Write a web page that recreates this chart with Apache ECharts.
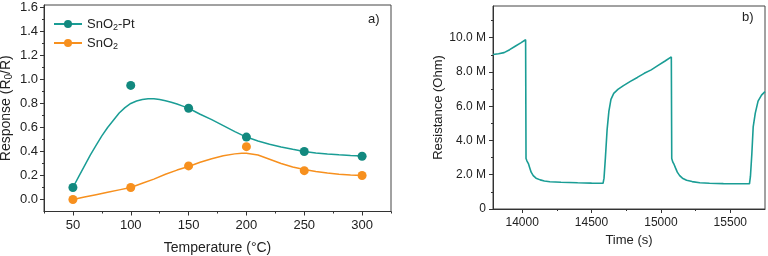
<!DOCTYPE html>
<html>
<head>
<meta charset="utf-8">
<script src="https://cdn.jsdelivr.net/npm/echarts@6/dist/echarts.min.js"></script>
<style>html,body{margin:0;padding:0;background:#fff}#c{width:768px;height:256px}</style>
</head>
<body>
<div id="c"></div>
<script>
// ---- Panel a) data ----
const temps = [50, 100, 150, 200, 250, 300];
const ptPoints = [0.10, 0.95, 0.76, 0.52, 0.40, 0.36];
const sno2Points = [0.00, 0.10, 0.28, 0.44, 0.24, 0.20];
const ptFitT = [50,55,60,65,70,75,80,85,90,95,100,105,110,115,120,125,130,135,140,145,150,160,170,180,190,200,210,220,230,240,250,260,270,280,290,300];
const ptFitV = [0.10,0.19,0.28,0.37,0.45,0.53,0.60,0.66,0.72,0.765,0.80,0.82,0.833,0.839,0.839,0.833,0.822,0.81,0.795,0.778,0.76,0.71,0.665,0.615,0.565,0.52,0.487,0.46,0.438,0.418,0.40,0.388,0.379,0.372,0.366,0.362];
const snFitT = [50,60,70,80,90,100,110,120,130,140,150,160,170,180,190,196,200,210,220,230,240,250,260,270,280,290,300];
const snFitV = [0.00,0.02,0.04,0.06,0.08,0.10,0.135,0.17,0.21,0.245,0.275,0.31,0.34,0.365,0.38,0.386,0.385,0.37,0.335,0.30,0.27,0.25,0.233,0.22,0.21,0.203,0.20];
const tempTicks = [50, 100, 150, 200, 250, 300];
const tempMinor = [25, 75, 125, 175, 225, 275, 325];
const respTicks = [0, 0.2, 0.4, 0.6, 0.8, 1.0, 1.2, 1.4, 1.6];
const respMinor = [0.1, 0.3, 0.5, 0.7, 0.9, 1.1, 1.3, 1.5];

// ---- Panel b) data (time s, resistance in MOhm) ----
const timeS = [13790,13830,13870,13910,13950,13990,14025,14028,14035,14045,14055,14065,14080,14100,14130,14160,14200,14280,14400,14500,14583,14590,14600,14612,14625,14640,14660,14690,14730,14780,14830,14880,14930,14980,15030,15075,15078,15085,15095,15105,15118,15135,15155,15185,15225,15280,15350,15450,15550,15638,15645,15655,15665,15680,15700,15725,15750];
const resM = [9.02,9.06,9.13,9.30,9.50,9.70,9.88,2.95,2.80,2.65,2.40,2.15,1.95,1.80,1.70,1.63,1.59,1.56,1.53,1.51,1.50,1.80,3.00,4.60,5.70,6.40,6.75,6.98,7.20,7.45,7.68,7.92,8.12,8.38,8.64,8.88,2.95,2.75,2.60,2.40,2.15,1.95,1.80,1.68,1.60,1.53,1.50,1.48,1.47,1.47,1.90,3.20,4.80,5.60,6.30,6.65,6.85];
const timeTicks = [14000, 14500, 15000, 15500];
const timeMinor = [14250, 14750, 15250];
const resTicks = [0, 2, 4, 6, 8, 10];
const resMinor = [1, 3, 5, 7, 9, 11];

const TEAL = '#12897f';
const TEAL_L = '#1a9d95';
const ORANGE = '#f7901e';
const FONT = 'Liberation Sans, Arial, sans-serif';
const AX = '#333';

const zip = (a, b) => a.map((v, i) => [v, b[i]]);

const chart = echarts.init(document.getElementById('c'), null, {renderer: 'canvas'});

function mainAxis(extra) {
  return Object.assign({
    type: 'value',
    axisLine: {show: true, onZero: false, lineStyle: {color: AX, width: 1}},
    splitLine: {show: false},
    nameTextStyle: {fontFamily: FONT, fontSize: 14, color: '#222'},
  }, extra);
}
function minorAxis(extra) {
  return Object.assign({
    type: 'value',
    axisLine: {show: false, onZero: false},
    axisLabel: {show: false},
    splitLine: {show: false},
  }, extra);
}

chart.setOption({
  animation: false,
  textStyle: {fontFamily: FONT},
  grid: [
    {left: 44, top: 5, width: 347, height: 206.5, show: true, borderColor: '#444', borderWidth: 1, containLabel: false, outerBoundsMode: 'none'},
    {left: 493, top: 6, width: 272, height: 203, show: true, borderColor: '#444', borderWidth: 1, containLabel: false, outerBoundsMode: 'none'}
  ],
  legend: {
    orient: 'vertical', left: 48, top: 11, itemWidth: 28, itemHeight: 10, itemGap: 3,
    data: ['SnO2-Pt', 'SnO2'],
    formatter: n => n === 'SnO2-Pt' ? '{a|SnO}{s|2}{a|-Pt}' : '{a|SnO}{s|2}',
    textStyle: {fontFamily: FONT, fontSize: 13, color: '#222',
      rich: {a: {fontSize: 13, fontFamily: FONT, color: '#222', lineHeight: 16},
             s: {fontSize: 9, fontFamily: FONT, color: '#222', lineHeight: 16, padding: [7, 0, 0, 0]}}}
  },
  xAxis: [
    mainAxis({gridIndex: 0, min: 25, max: 325, position: 'bottom',
      name: 'Temperature (°C)', nameLocation: 'middle', nameGap: 30,
      axisTick: {customValues: tempTicks, length: 4, lineStyle: {color: AX}},
      axisLabel: {customValues: tempTicks, fontSize: 13, color: '#222', margin: 7, formatter: v => String(v)}}),
    minorAxis({gridIndex: 0, min: 25, max: 325, position: 'bottom',
      axisTick: {customValues: tempMinor, length: 2, lineStyle: {color: AX}}}),
    mainAxis({gridIndex: 1, min: 13790, max: 15750, position: 'bottom',
      name: 'Time (s)', nameLocation: 'middle', nameGap: 19,
      nameTextStyle: {fontFamily: FONT, fontSize: 13, color: '#222'},
      axisTick: {customValues: timeTicks, length: 4, lineStyle: {color: AX}},
      axisLabel: {customValues: timeTicks, fontSize: 12, color: '#222', margin: 8, formatter: v => String(v)}}),
    minorAxis({gridIndex: 1, min: 13790, max: 15750, position: 'bottom',
      axisTick: {customValues: timeMinor, length: 2, lineStyle: {color: AX}}})
  ],
  yAxis: [
    mainAxis({gridIndex: 0, min: -0.1, max: 1.62, position: 'left',
      name: '{a|Response (R}{s|0}{a|/R)}', nameLocation: 'middle', nameGap: 30,
      nameTextStyle: {fontFamily: FONT, fontSize: 14, color: '#222',
        rich: {a: {fontSize: 14, fontFamily: FONT, color: '#222', lineHeight: 16},
               s: {fontSize: 10, fontFamily: FONT, color: '#222', lineHeight: 16, padding: [7, 0, 0, 0]}}},
      axisTick: {customValues: respTicks, length: 4, lineStyle: {color: AX}},
      axisLabel: {customValues: respTicks, fontSize: 13, color: '#222', margin: 6, formatter: v => v.toFixed(1)}}),
    minorAxis({gridIndex: 0, min: -0.1, max: 1.62, position: 'left',
      axisTick: {customValues: respMinor, length: 2, lineStyle: {color: AX}}}),
    mainAxis({gridIndex: 1, min: 0, max: 11.85, position: 'left',
      name: 'Resistance (Ohm)', nameLocation: 'middle', nameGap: 44,
      nameTextStyle: {fontFamily: FONT, fontSize: 13, color: '#222'},
      axisTick: {customValues: resTicks, length: 4, lineStyle: {color: AX}},
      axisLabel: {customValues: resTicks, fontSize: 12, color: '#222', margin: 7,
        formatter: v => v === 0 ? '0' : v.toFixed(1) + ' M'}}),
    minorAxis({gridIndex: 1, min: 0, max: 11.85, position: 'left',
      axisTick: {customValues: resMinor, length: 2, lineStyle: {color: AX}}})
  ],
  series: [
    {name: 'SnO2-Pt', type: 'line', xAxisIndex: 0, yAxisIndex: 0, data: zip(ptFitT, ptFitV),
      smooth: false, symbol: 'circle', symbolSize: 10, showSymbol: false,
      lineStyle: {color: TEAL_L, width: 1.5}, itemStyle: {color: TEAL}},
    {name: 'SnO2', type: 'line', xAxisIndex: 0, yAxisIndex: 0, data: zip(snFitT, snFitV),
      smooth: false, symbol: 'circle', symbolSize: 10, showSymbol: false,
      lineStyle: {color: ORANGE, width: 1.5}, itemStyle: {color: ORANGE}},
    {name: 'SnO2-Pt', type: 'scatter', xAxisIndex: 0, yAxisIndex: 0, data: zip(temps, ptPoints),
      symbol: 'circle', symbolSize: 9, itemStyle: {color: TEAL, opacity: 1}, z: 3},
    {name: 'SnO2', type: 'scatter', xAxisIndex: 0, yAxisIndex: 0, data: zip(temps, sno2Points),
      symbol: 'circle', symbolSize: 9, itemStyle: {color: ORANGE, opacity: 1}, z: 3},
    {name: 'Resistance', type: 'line', xAxisIndex: 2, yAxisIndex: 2, data: zip(timeS, resM),
      showSymbol: false, symbol: 'none', lineStyle: {color: TEAL_L, width: 1.6}}
  ],
  graphic: [
    {type: 'text', left: 368, top: 13, style: {text: 'a)', font: '13px ' + FONT, fill: '#222'}},
    {type: 'text', left: 742, top: 11, style: {text: 'b)', font: '13px ' + FONT, fill: '#222'}}
  ]
});
</script>
</body>
</html>
